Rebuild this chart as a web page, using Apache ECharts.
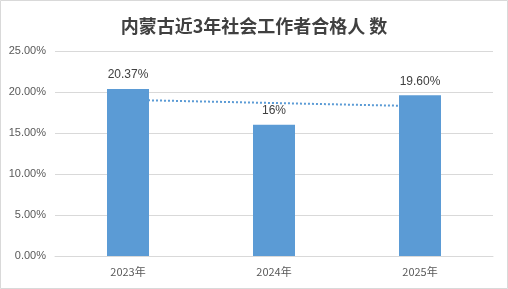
<!DOCTYPE html>
<html><head><meta charset="utf-8">
<script src="https://cdn.jsdelivr.net/npm/echarts@6/dist/echarts.min.js"></script>
<style>html,body{margin:0;padding:0;background:#fff}#c{width:508px;height:289px}</style>
</head><body><div id="c"></div>
<script>
const categories = ['2023年', '2024年', '2025年'];
const values = [20.37, 16, 19.60];
const valueLabels = ['20.37%', '16%', '19.60%'];
const trendValues = [19.04, 18.655, 18.27];
const yTicks = [0, 5, 10, 15, 20, 25];

const chart = echarts.init(document.getElementById('c'));
chart.setOption({
  animation: false,
  backgroundColor: '#fff',
  title: {
    text: '内蒙古近3年社会工作者合格人 数',
    left: 'center', top: 12,
    textStyle: { fontFamily: 'Noto Sans CJK SC', fontWeight: 'bold', fontSize: 18, color: '#404040' }
  },
  graphic: [{
    type: 'rect', shape: { x: 0.5, y: 0.5, width: 507, height: 288 },
    style: { fill: 'none', stroke: '#d9d9d9', lineWidth: 1 }, silent: true
  }],
  grid: { left: 55, right: 15, top: 51, bottom: 33 },
  xAxis: {
    type: 'category', data: categories,
    axisLine: { lineStyle: { color: '#d9d9d9', width: 1 } },
    axisTick: { show: false },
    axisLabel: { color: '#595959', fontSize: 11, margin: 10, fontFamily: 'Noto Sans CJK SC' }
  },
  yAxis: {
    type: 'value', min: yTicks[0], max: yTicks[yTicks.length - 1], interval: 5,
    axisLine: { show: false }, axisTick: { show: false },
    splitLine: { lineStyle: { color: '#d9d9d9', width: 1 } },
    axisLabel: { color: '#595959', fontSize: 11, margin: 9, fontFamily: 'Liberation Sans',
      formatter: v => v.toFixed(2) + '%' }
  },
  series: [
    {
      type: 'line', data: trendValues, symbol: 'none', z: 1,
      lineStyle: { color: '#5B9BD5', width: 2, type: [2, 2] }, silent: true
    },
    {
      type: 'bar', data: values, barWidth: 42, z: 2,
      itemStyle: { color: '#5B9BD5' },
      label: { show: true, position: 'top', distance: 8, color: '#404040', fontSize: 12,
        fontFamily: 'Liberation Sans',
        formatter: p => valueLabels[p.dataIndex] }
    }
  ]
});
</script></body></html>
